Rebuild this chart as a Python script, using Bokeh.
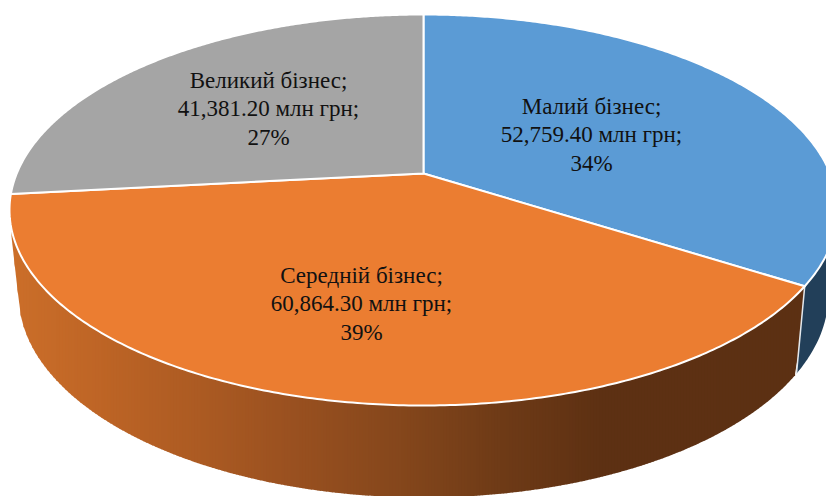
import numpy as np
from bokeh.plotting import figure
from bokeh.models import Range1d
from bokeh.core.properties import value
from bokeh.embed import file_html
from bokeh.resources import INLINE

categories = ["Малий бізнес", "Середній бізнес", "Великий бізнес"]
values = [52759.40, 60864.30, 41381.20]
colors = ["#5B9BD5", "#EB7D31", "#A5A5A5"]
label_x = [591, 361, 268]
label_y = [106, 275, 80]

# top face: a circle in perspective
CX, CY, RX, RY = 423.0, 209.5, 414.0, 195.5
TILT = 0.187
# lower rim of the drum
LX, LY, LRX, LRY = 423.0, 294.0, 405.0, 203.0

STOPS_X = [11, 100, 200, 300, 400, 500, 600, 830]
STOPS_C = [(0xCC, 0x6F, 0x2A), (0xBE, 0x65, 0x26), (0xAC, 0x5B, 0x23), (0x98, 0x50, 0x20),
           (0x85, 0x47, 0x1C), (0x6F, 0x3B, 0x17), (0x5E, 0x31, 0x13), (0x5C, 0x30, 0x13)]


def project(theta):
    u, v = np.sin(theta), np.cos(theta)
    d = 1 + TILT * v
    xp = u * np.sqrt(1 - TILT ** 2) / d
    yp = (v + TILT) / d
    return CX + RX * xp, CY - RY * yp


def rim_y(x):
    t = np.clip((x - CX) / RX, -1, 1)
    return CY + RY * np.sqrt(1 - t ** 2)


def low_y(x):
    t = np.clip((x - LX) / LRX, -1, 1)
    return LY + LRY * np.sqrt(1 - t ** 2)


total = sum(values)
fractions = [v / total for v in values]
edges = np.concatenate([[0], np.cumsum(fractions)]) * 2 * np.pi

p = figure(width=826, height=496, x_range=Range1d(0, 826), y_range=Range1d(496, 0),
           x_axis_type=None, y_axis_type=None, toolbar_location=None,
           output_backend="svg", min_border=0, outline_line_color=None,
           background_fill_color="white", border_fill_color="white")
p.grid.visible = False

# where the first boundary meets the rim, top and bottom
x_top, y_top = project(edges[1])
x_bot = 796.0
y_bot = float(low_y(x_bot))

# dark side of the first slice
xs_b = np.linspace(x_bot, 835, 30)
p.patch(list(xs_b) + [835, x_top], list(low_y(xs_b)) + [150, y_top],
        fill_color="#223F59", line_color=None)


def bottom(x):
    if x < 19.5:
        return 236 + (x - 11) * (float(low_y(19.5)) - 236) / 8.5
    y = float(low_y(x))
    if x > x_bot:
        y = min(y, y_bot + (x - x_bot) * (y_top - y_bot) / (x_top - x_bot))
    return y


# shaded side of the second slice, in narrow strips
sx = np.arange(11, x_top + 3, 3.0)
strip_xs, strip_ys, strip_cs = [], [], []
for a in sx:
    b = min(a + 3.6, x_top)
    if b <= a:
        continue
    strip_xs.append([a, b, b, a])
    strip_ys.append([float(rim_y(a)) - 8, float(rim_y(b)) - 8, bottom(b), bottom(a)])
    c = [int(np.interp(a + 1.5, STOPS_X, [s[i] for s in STOPS_C])) for i in range(3)]
    strip_cs.append("#%02X%02X%02X" % tuple(c))
p.patches(strip_xs, strip_ys, fill_color=strip_cs, line_color=None)

p.line([x_top, x_bot], [y_top, y_bot], line_color="#E4E8EC", line_width=1.5)

# top face
apex_y = CY - RY * TILT
for i in range(3):
    th = np.linspace(edges[i], edges[i + 1], 240)
    x, y = project(th)
    p.patch([CX] + list(x), [apex_y] + list(y), fill_color=colors[i],
            line_color="white", line_width=2, line_join="round")

# labels
for i in range(3):
    lines = [categories[i] + ";", f"{values[i]:,.2f} млн грн;", f"{round(fractions[i] * 100)}%"]
    for j, t in enumerate(lines):
        p.text([label_x[i]], [label_y[i] + j * 28.3], text=[t], text_font=value("Liberation Serif"),
               text_font_size="23px", text_color="#111111", text_align="center",
               text_baseline="middle")

open("out.html", "w").write(file_html(p, INLINE))
